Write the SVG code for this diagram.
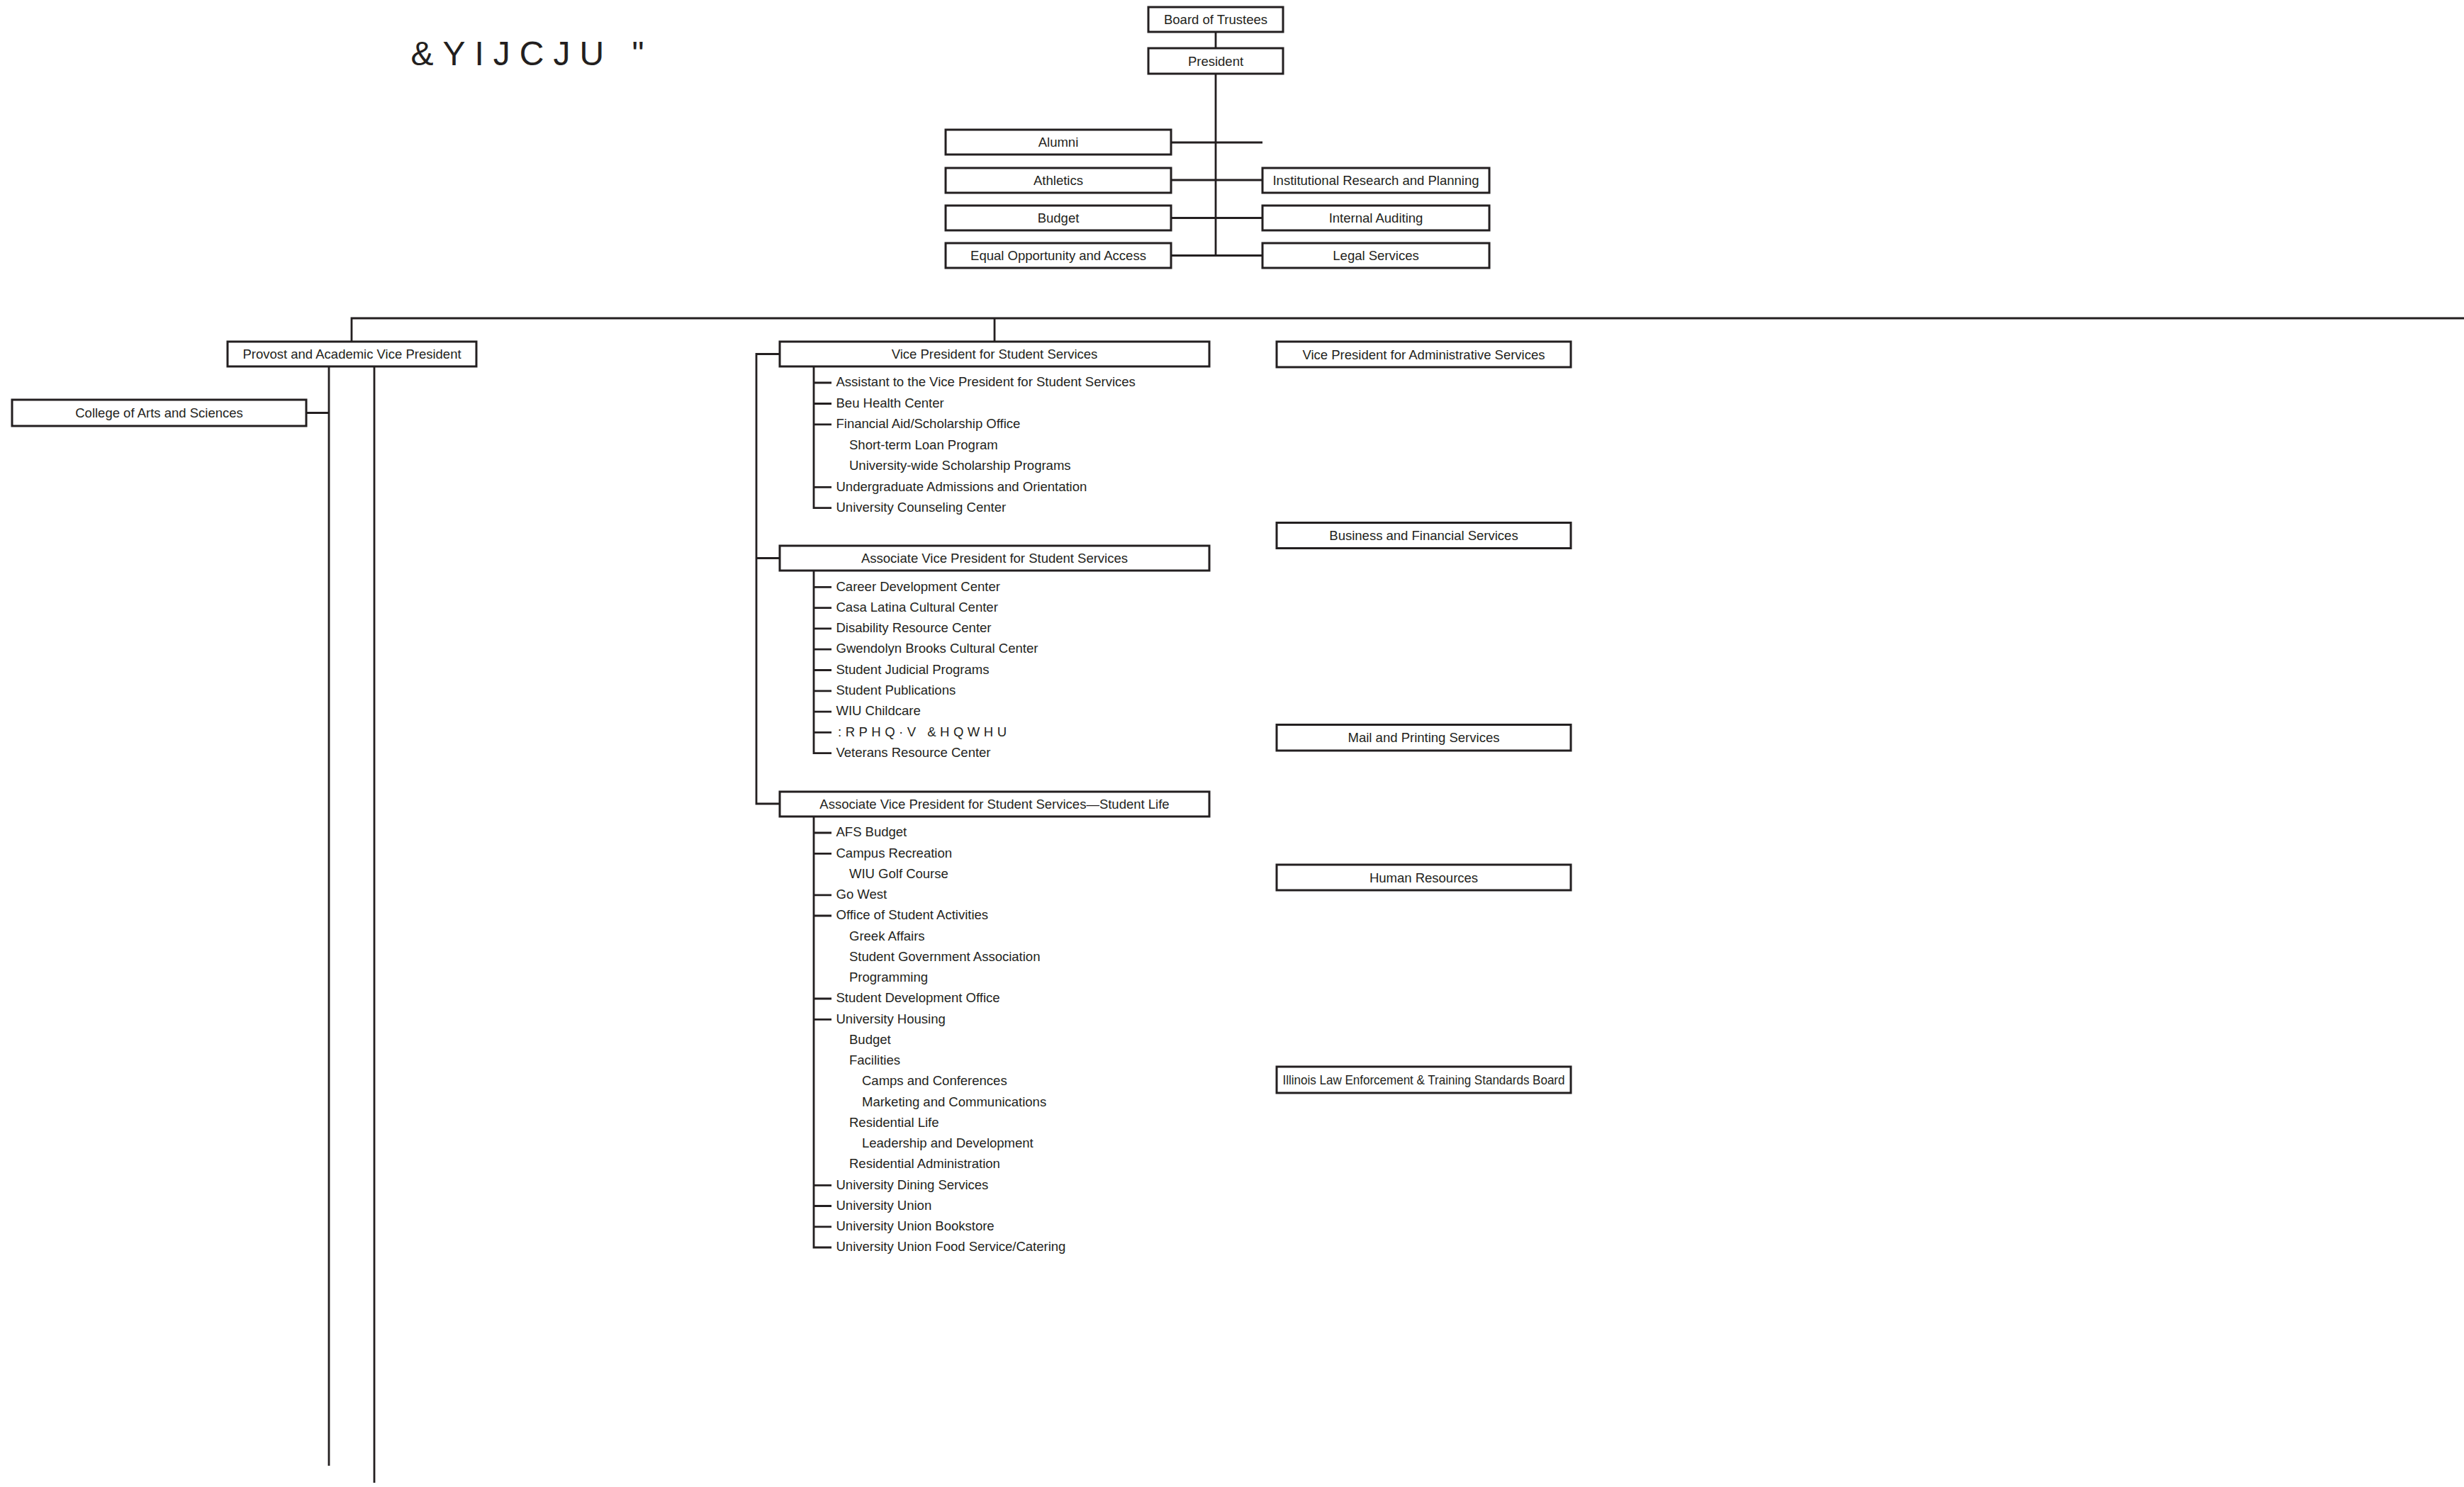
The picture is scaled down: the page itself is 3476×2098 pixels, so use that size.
<svg xmlns="http://www.w3.org/2000/svg" width="3476" height="2098" viewBox="0 0 3476 2098">
<style>
  .bg { fill: #ffffff; }
  .box { fill: #ffffff; stroke: #231f20; stroke-width: 3; }
  .ln { fill: none; stroke: #231f20; stroke-width: 2.8; stroke-linecap: butt; }
  text { font-family: "Liberation Sans", Arial, sans-serif; fill: #231f20; }
  .lbl { font-size: 18.5px; text-anchor: middle; }
  .it { font-size: 18.5px; }
  .title { font-size: 48px; letter-spacing: 13px; }
  .wc { font-size: 18.5px; letter-spacing: 5.5px; }
</style>
<rect class="bg" x="0" y="0" width="3476" height="2098"/>
<text class="title" x="579.5" y="92">&amp;YIJCJU "</text>

<g id="connectors">
  <path class="ln" d="M1715,45 V68 M1715,104 V360.5"/>
  <path class="ln" d="M1652,201 H1781 M1652,254 H1781 M1652,307.5 H1781 M1652,360.5 H1781"/>
  <path class="ln" d="M496,482 V449 H3476 M1403,449 V482"/>
  <path class="ln" d="M464,517 V2068 M528,517 V2092 M432,582.5 H464"/>
  <path class="ln" d="M1100,499.5 H1067 V1134 H1100 M1067,787.5 H1100"/>
  <path class="ln" d="M1148,517 V716.7 H1173 M1148,540 H1173 M1148,569.5 H1173 M1148,598.9 H1173 M1148,687.3 H1173"/>
  <path class="ln" d="M1148,805 V1062.7 H1173 M1148,828.3 H1173 M1148,857.6 H1173 M1148,886.9 H1173 M1148,916.2 H1173 M1148,945.5 H1173 M1148,974.8 H1173 M1148,1004.1 H1173 M1148,1033.4 H1173"/>
  <path class="ln" d="M1148,1152 V1760 H1173 M1148,1175 H1173 M1148,1204.3 H1173 M1148,1262.8 H1173 M1148,1292 H1173 M1148,1409 H1173 M1148,1438.3 H1173 M1148,1672.3 H1173 M1148,1701.5 H1173 M1148,1730.8 H1173"/>
</g>

<g id="board"><rect class="box" x="1620" y="10" width="190" height="35"/><text class="lbl" x="1715" y="34">Board of Trustees</text></g>
<g id="president"><rect class="box" x="1620" y="68" width="190" height="36"/><text class="lbl" x="1715" y="92.6">President</text></g>
<g id="alumni"><rect class="box" x="1334" y="183" width="318" height="35"/><text class="lbl" x="1493" y="207">Alumni</text></g>
<g id="athletics"><rect class="box" x="1334" y="237" width="318" height="35"/><text class="lbl" x="1493" y="261">Athletics</text></g>
<g id="budget"><rect class="box" x="1334" y="290" width="318" height="35"/><text class="lbl" x="1493" y="314">Budget</text></g>
<g id="eoa"><rect class="box" x="1334" y="343" width="318" height="35"/><text class="lbl" x="1493" y="367">Equal Opportunity and Access</text></g>
<g id="irp"><rect class="box" x="1781" y="237" width="320" height="35"/><text class="lbl" x="1941" y="261">Institutional Research and Planning</text></g>
<g id="audit"><rect class="box" x="1781" y="290" width="320" height="35"/><text class="lbl" x="1941" y="314">Internal Auditing</text></g>
<g id="legal"><rect class="box" x="1781" y="343" width="320" height="35"/><text class="lbl" x="1941" y="367">Legal Services</text></g>

<g id="provost"><rect class="box" x="321" y="482" width="351" height="35"/><text class="lbl" x="496.5" y="506">Provost and Academic Vice President</text></g>
<g id="college-arts-sciences"><rect class="box" x="17" y="564" width="415" height="37"/><text class="lbl" x="224.5" y="589">College of Arts and Sciences</text></g>

<g id="vp-student-services">
  <rect class="box" x="1100" y="482" width="606" height="35"/><text class="lbl" x="1403" y="506">Vice President for Student Services</text>
  <g transform="translate(0,-1.5)">
  <text class="it" x="1179.5" y="546.7">Assistant to the Vice President for Student Services</text>
  <text class="it" x="1179.5" y="576.2">Beu Health Center</text>
  <text class="it" x="1179.5" y="605.6">Financial Aid/Scholarship Office</text>
  <text class="it" x="1198" y="635">Short-term Loan Program</text>
  <text class="it" x="1198" y="664.5">University-wide Scholarship Programs</text>
  <text class="it" x="1179.5" y="694">Undergraduate Admissions and Orientation</text>
  <text class="it" x="1179.5" y="723.4">University Counseling Center</text>
  </g>
</g>

<g id="avp-student-services">
  <rect class="box" x="1100" y="770" width="606" height="35"/><text class="lbl" x="1403" y="794">Associate Vice President for Student Services</text>
  <g transform="translate(0,-1.5)">
  <text class="it" x="1179.5" y="835">Career Development Center</text>
  <text class="it" x="1179.5" y="864.3">Casa Latina Cultural Center</text>
  <text class="it" x="1179.5" y="893.6">Disability Resource Center</text>
  <text class="it" x="1179.5" y="922.9">Gwendolyn Brooks Cultural Center</text>
  <text class="it" x="1179.5" y="952.2">Student Judicial Programs</text>
  <text class="it" x="1179.5" y="981.5">Student Publications</text>
  <text class="it" x="1179.5" y="1010.8">WIU Childcare</text>
  <text class="wc" x="1182" y="1040.1">:RPHQ·V &amp;HQWHU</text>
  <text class="it" x="1179.5" y="1069.4">Veterans Resource Center</text>
  </g>
</g>

<g id="avp-student-life">
  <rect class="box" x="1100" y="1117" width="606" height="35"/><text class="lbl" x="1403" y="1141">Associate Vice President for Student Services—Student Life</text>
  <g transform="translate(0,-1.5)">
  <text class="it" x="1179.5" y="1181.7">AFS Budget</text>
  <text class="it" x="1179.5" y="1211">Campus Recreation</text>
  <text class="it" x="1198" y="1240.2">WIU Golf Course</text>
  <text class="it" x="1179.5" y="1269.5">Go West</text>
  <text class="it" x="1179.5" y="1298.7">Office of Student Activities</text>
  <text class="it" x="1198" y="1328">Greek Affairs</text>
  <text class="it" x="1198" y="1357.2">Student Government Association</text>
  <text class="it" x="1198" y="1386.5">Programming</text>
  <text class="it" x="1179.5" y="1415.7">Student Development Office</text>
  <text class="it" x="1179.5" y="1445">University Housing</text>
  <text class="it" x="1198" y="1474.2">Budget</text>
  <text class="it" x="1198" y="1503.5">Facilities</text>
  <text class="it" x="1216" y="1532.7">Camps and Conferences</text>
  <text class="it" x="1216" y="1562">Marketing and Communications</text>
  <text class="it" x="1198" y="1591.2">Residential Life</text>
  <text class="it" x="1216" y="1620.5">Leadership and Development</text>
  <text class="it" x="1198" y="1649.7">Residential Administration</text>
  <text class="it" x="1179.5" y="1679">University Dining Services</text>
  <text class="it" x="1179.5" y="1708.2">University Union</text>
  <text class="it" x="1179.5" y="1737.5">University Union Bookstore</text>
  <text class="it" x="1179.5" y="1766.7">University Union Food Service/Catering</text>
  </g>
</g>

<g id="vp-admin"><rect class="box" x="1801" y="482" width="415" height="36"/><text class="lbl" x="2008.5" y="506.6">Vice President for Administrative Services</text></g>
<g id="business-financial"><rect class="box" x="1801" y="737.5" width="415" height="36"/><text class="lbl" x="2008.5" y="762">Business and Financial Services</text></g>
<g id="mail-printing"><rect class="box" x="1801" y="1022.5" width="415" height="36.5"/><text class="lbl" x="2008.5" y="1047.3">Mail and Printing Services</text></g>
<g id="human-resources"><rect class="box" x="1801" y="1220" width="415" height="36"/><text class="lbl" x="2008.5" y="1244.6">Human Resources</text></g>
<g id="ilets-board"><rect class="box" x="1801" y="1505" width="415" height="37"/><text class="lbl" x="2008.5" y="1530" textLength="398" lengthAdjust="spacingAndGlyphs">Illinois Law Enforcement &amp; Training Standards Board</text></g>
</svg>
